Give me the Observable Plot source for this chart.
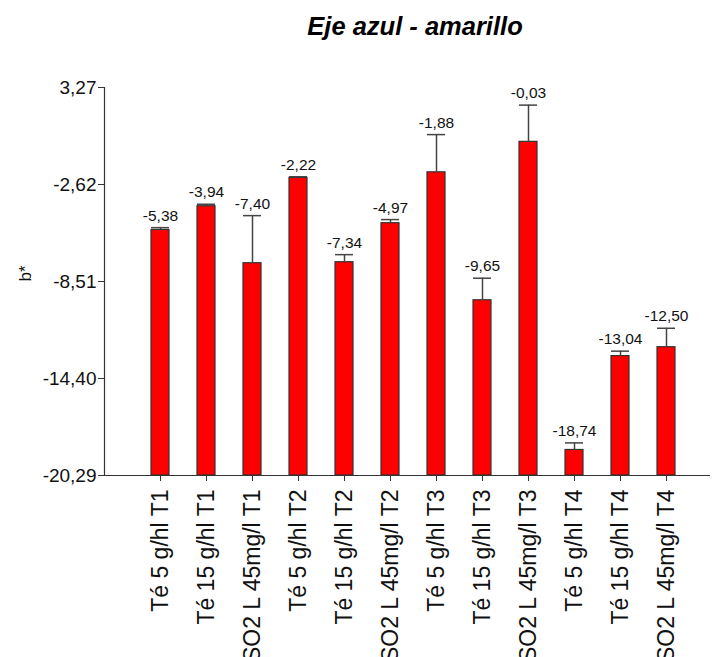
<!DOCTYPE html>
<html>
<head>
<meta charset="utf-8">
<script src="https://cdn.jsdelivr.net/npm/d3@7"></script>
<script src="https://cdn.jsdelivr.net/npm/@observablehq/plot@0.6"></script>
<style>
  body { margin: 0; background: #fff; font-family: Arial, "Liberation Sans", sans-serif; }
  #title { width: 714px; height: 50px; box-sizing: border-box; padding-top: 14px; padding-left: 116px;
           text-align: center; font-size: 25.5px; line-height: 25px; font-weight: bold; font-style: italic; color: #000; margin: 0; }
</style>
</head>
<body>
<div id="title">Eje azul - amarillo</div>
<div id="chart"></div>
<script>
const categories = ["Té 5 g/hl T1", "Té 15 g/hl T1", "SO2 L 45mg/l T1",
                    "Té 5 g/hl T2", "Té 15 g/hl T2", "SO2 L 45mg/l T2",
                    "Té 5 g/hl T3", "Té 15 g/hl T3", "SO2 L 45mg/l T3",
                    "Té 5 g/hl T4", "Té 15 g/hl T4", "SO2 L 45mg/l T4"];
const values = [-5.38, -3.94, -7.40, -2.22, -7.34, -4.97, -1.88, -9.65, -0.03, -18.74, -13.04, -12.50];
const errors = [0.14, 0.12, 2.89, 0.07, 0.46, 0.22, 2.29, 1.34, 2.23, 0.43, 0.30, 1.15];
const yTicks = [3.27, -2.62, -8.51, -14.40, -20.29];
const yLabel = "b*";

const base = -20.29;
const fmt = v => d3.format(".2f")(v).replace("\u2212", "-").replace(".", ",");
const data = categories.map((c, i) => ({cat: c, value: values[i], err: errors[i], top: values[i] + errors[i]}));

const chart = Plot.plot({
  width: 714,
  height: 607,
  marginTop: 37,
  marginBottom: 182,
  marginLeft: 104,
  marginRight: 4,
  style: {fontFamily: "Arial, 'Liberation Sans', sans-serif", color: "#111", background: "#fff"},
  x: {domain: categories, paddingInner: 0.605, paddingOuter: 0.762, align: 0.57, label: null},
  y: {domain: [base, 3.27], label: null},
  marks: [
    Plot.barY(data, {x: "cat", y1: base, y2: "value", fill: "#ff0000", stroke: "#333", strokeWidth: 1.2}),
    Plot.ruleX(data, {x: "cat", y1: "value", y2: "top", stroke: "#444", strokeWidth: 1.5}),
    Plot.tickY(data, {x: "cat", y: "top", stroke: "#444", strokeWidth: 1.5}),
    Plot.text(data, {x: "cat", y: "top", text: d => fmt(d.value), lineAnchor: "bottom", dy: -7, fontSize: 15.5, fill: "#111"}),
    Plot.ruleY([base], {stroke: "#333", strokeWidth: 1.2}),
    Plot.frame({anchor: "left", stroke: "#333", strokeWidth: 1.2}),
    Plot.axisY({ticks: yTicks, tickFormat: fmt, tickSize: 6, tickPadding: 2, fontSize: 19, label: null, stroke: "#333"}),
    Plot.axisX({tickSize: 6, tickRotate: -90, tickPadding: 8, fontSize: 23, label: null, stroke: "#333"}),
    Plot.text([yLabel], {frameAnchor: "left", rotate: -90, dx: -79, fontSize: 17, fill: "#111"})
  ]
});
document.getElementById("chart").appendChild(chart);
</script>
</body>
</html>
